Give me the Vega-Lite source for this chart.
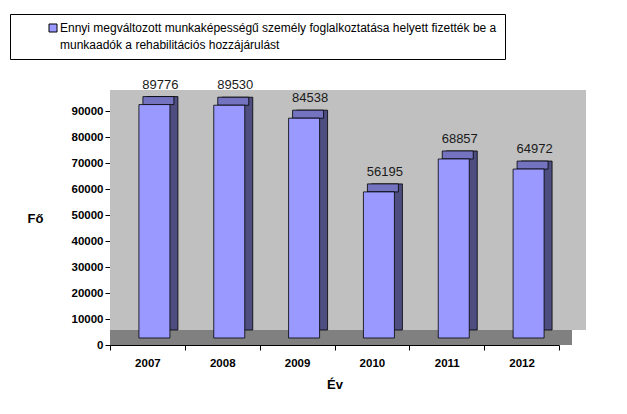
{
  "$schema": "https://vega.github.io/schema/vega-lite/v6.json",
  "autosize": {"type": "none"},
  "padding": {"left": 110, "top": 111, "right": 68, "bottom": 69},
  "width": 449,
  "height": 234,
  "background": "white",
  "config": {
    "font": "Liberation Sans",
    "view": {"fill": "#c0c0c0", "stroke": null},
    "axisY": {
      "grid": false,
      "labelOverlap": false,
      "labelFontSize": 11.5,
      "labelFontWeight": "bold",
      "labelColor": "black",
      "labelPadding": 2,
      "tickColor": "black",
      "tickSize": 5,
      "domainColor": "black",
      "titleAngle": 0,
      "titleFontSize": 13,
      "titleFontWeight": "bold",
      "titleColor": "black",
      "titleAlign": "center",
      "titleBaseline": "middle",
      "titleX": -75,
      "titleY": 107,
      "zindex": 1
    },
    "axisX": {
      "labelAngle": 0,
      "labelFontSize": 11.5,
      "labelFontWeight": "bold",
      "labelColor": "black",
      "labelPadding": 7,
      "tickBand": "extent",
      "tickColor": "black",
      "tickSize": 5,
      "domainColor": "black",
      "titleFontSize": 13,
      "titleFontWeight": "bold",
      "titleColor": "black",
      "titlePadding": 10,
      "zindex": 1
    }
  },
  "data": {
    "values": [
      {"ev": "2007", "fo": 89776, "sorozat": "Ennyi megváltozott munkaképességű személy foglalkoztatása helyett fizették be a munkaadók a rehabilitációs hozzájárulást"},
      {"ev": "2008", "fo": 89530, "sorozat": "Ennyi megváltozott munkaképességű személy foglalkoztatása helyett fizették be a munkaadók a rehabilitációs hozzájárulást"},
      {"ev": "2009", "fo": 84538, "sorozat": "Ennyi megváltozott munkaképességű személy foglalkoztatása helyett fizették be a munkaadók a rehabilitációs hozzájárulást"},
      {"ev": "2010", "fo": 56195, "sorozat": "Ennyi megváltozott munkaképességű személy foglalkoztatása helyett fizették be a munkaadók a rehabilitációs hozzájárulást"},
      {"ev": "2011", "fo": 68857, "sorozat": "Ennyi megváltozott munkaképességű személy foglalkoztatása helyett fizették be a munkaadók a rehabilitációs hozzájárulást"},
      {"ev": "2012", "fo": 64972, "sorozat": "Ennyi megváltozott munkaképességű személy foglalkoztatása helyett fizették be a munkaadók a rehabilitációs hozzájárulást"}
    ]
  },
  "layer": [
    {
      "mark": {"type": "rect", "color": "#c0c0c0", "xOffset": 27, "x2Offset": 27, "yOffset": -15, "y2Offset": -21},
      "encoding": {
        "y": {
          "datum": 0,
          "type": "quantitative",
          "title": "Fő",
          "scale": {"domain": [0, 90000], "nice": false},
          "axis": {"values": [0, 10000, 20000, 30000, 40000, 50000, 60000, 70000, 80000, 90000], "format": "d", "labelOverlap": false}
        },
        "y2": {"datum": 90000}
      }
    },
    {
      "mark": {"type": "rect", "color": "#808080", "xOffset": 13, "x2Offset": 13, "yOffset": 0, "y2Offset": -15},
      "encoding": {
        "y": {"datum": 0, "type": "quantitative", "title": "Fő", "axis": {"values": [0, 10000, 20000, 30000, 40000, 50000, 60000, 70000, 80000, 90000], "format": "d", "labelOverlap": false}},
        "y2": {"datum": 0}
      }
    },
    {
      "mark": {"type": "bar", "width": 31, "color": "#4d4d80", "stroke": "black", "strokeWidth": 0.8, "xOffset": 15, "yOffset": -15, "y2Offset": -15},
      "encoding": {
        "x": {"field": "ev", "type": "nominal", "title": "Év"},
        "y": {"field": "fo", "type": "quantitative", "title": "Fő", "axis": {"values": [0, 10000, 20000, 30000, 40000, 50000, 60000, 70000, 80000, 90000], "format": "d", "labelOverlap": false}}
      }
    },
    {
      "mark": {"type": "bar", "width": 31, "color": "#7373bf", "stroke": "black", "strokeWidth": 0.8, "xOffset": 11, "yOffset": -15, "y2Offset": -7},
      "encoding": {
        "x": {"field": "ev", "type": "nominal", "title": "Év"},
        "y": {"field": "fo", "type": "quantitative", "title": "Fő", "axis": {"values": [0, 10000, 20000, 30000, 40000, 50000, 60000, 70000, 80000, 90000], "format": "d", "labelOverlap": false}},
        "y2": {"field": "fo"}
      }
    },
    {
      "mark": {"type": "bar", "width": 31, "stroke": "black", "strokeWidth": 0.8, "xOffset": 7, "yOffset": -7, "y2Offset": -7},
      "encoding": {
        "x": {
          "field": "ev",
          "type": "nominal",
          "title": "Év",
          "scale": {"paddingInner": 0, "paddingOuter": 0}
        },
        "y": {"field": "fo", "type": "quantitative", "title": "Fő", "axis": {"values": [0, 10000, 20000, 30000, 40000, 50000, 60000, 70000, 80000, 90000], "format": "d", "labelOverlap": false}},
        "color": {
          "field": "sorozat",
          "type": "nominal",
          "scale": {"range": ["#9999ff"]},
          "legend": {
            "title": null,
            "orient": "none",
            "legendX": -100,
            "legendY": -97,
            "padding": 8,
            "strokeColor": "black",
            "fillColor": "white",
            "symbolType": "square",
            "symbolSize": 64,
            "symbolStrokeColor": "black",
            "symbolStrokeWidth": 1,
            "symbolOffset": 29,
            "labelOffset": 1,
            "labelFontSize": 12,
            "labelColor": "black",
            "labelLimit": 1000,
            "labelBaseline": "middle",
            "labelExpr": "['Ennyi megváltozott munkaképességű személy foglalkoztatása helyett fizették be a', 'munkaadók a rehabilitációs hozzájárulást']",
            "encoding": {"labels": {"lineHeight": {"value": 17}}}
          }
        }
      }
    },
    {
      "mark": {"type": "text", "fontSize": 13, "color": "#1a1a1a", "baseline": "bottom", "xOffset": 13, "dy": -20},
      "encoding": {
        "x": {"field": "ev", "type": "nominal", "title": "Év"},
        "y": {"field": "fo", "type": "quantitative", "title": "Fő", "axis": {"values": [0, 10000, 20000, 30000, 40000, 50000, 60000, 70000, 80000, 90000], "format": "d", "labelOverlap": false}},
        "text": {"field": "fo", "type": "quantitative", "format": "d"}
      }
    }
  ]
}
